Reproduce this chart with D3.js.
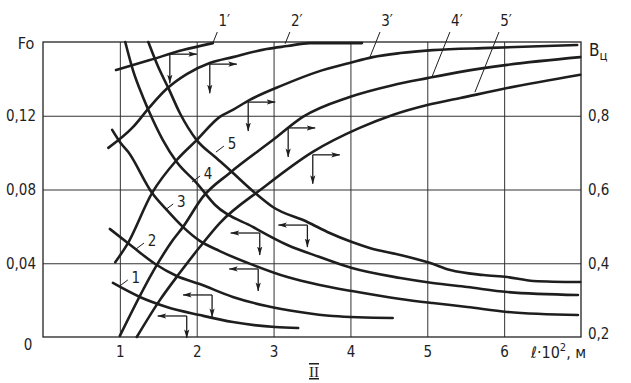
<!DOCTYPE html>
<html>
<head>
<meta charset="utf-8">
<script src="https://cdn.jsdelivr.net/npm/d3@7"></script>
<style>
html, body { margin: 0; padding: 0; background: #fff; }
svg text { font-family: "Liberation Sans Narrow", "DejaVu Sans Condensed", "Liberation Sans", sans-serif; fill: #1e1e1e; }
</style>
</head>
<body>
<div id="chart"></div>
<script>
"use strict"
// l*10^2 (m) along the bottom, Fo on the left, B_ц on the right
var lTicks = [1, 2, 3, 4, 5, 6],
	foTicks = [0.04, 0.08, 0.12],
	bTicks = [0.2, 0.4, 0.6, 0.8];

// Fo curves 1..5: [l, Fo]
var fo1 = [[0.91,0.0293],[1.26,0.0217],[1.61,0.0163],[2.04,0.0119],[2.47,0.0081],[3.02,0.0054],[3.32,0.0049]];
var fo2 = [[0.87,0.0586],[1.17,0.0488],[1.46,0.0396],[1.74,0.0331],[2.04,0.0287],[2.47,0.0217],[2.91,0.0168],[3.34,0.0136],[3.77,0.0114],[4.55,0.0103]];
var fo3 = [[0.90,0.1123],[1.00,0.1058],[1.11,0.1003],[1.42,0.0781],[1.61,0.0689],[1.82,0.0597],[2.04,0.0521],[2.30,0.0466],[2.73,0.0391],[3.18,0.0325],[3.60,0.0282],[4.02,0.0249],[4.65,0.0206],[5.07,0.0184],[5.52,0.0163],[6.04,0.0136],[6.96,0.0119]];
var fo4 = [[1.07,0.16],[1.17,0.1448],[1.30,0.1302],[1.43,0.1177],[1.56,0.1068],[1.74,0.0949],[2.00,0.0835],[2.24,0.0716],[2.73,0.0597],[3.18,0.0499],[3.60,0.0434],[4.02,0.0374],[4.65,0.0320],[5.07,0.0293],[5.52,0.0271],[6.04,0.0244],[6.96,0.0228]];
var fo5 = [[1.37,0.16],[1.50,0.1464],[1.63,0.1351],[1.78,0.1215],[2.00,0.1068],[2.24,0.0976],[2.43,0.0906],[2.76,0.0781],[2.99,0.0705],[3.44,0.0624],[3.73,0.0564],[4.02,0.0515],[4.25,0.0483],[4.65,0.0445],[5.04,0.0401],[5.30,0.0363],[5.73,0.0336],[6.04,0.0325],[6.38,0.0304],[6.99,0.0298]];

// B_ц curves 1'..5': [l, B]
var b1 = [[0.95,0.924],[1.39,0.951],[1.82,0.978],[2.21,0.997]];
var b2 = [[0.85,0.713],[1.17,0.769],[1.39,0.824],[1.61,0.873],[1.87,0.913],[2.17,0.943],[2.47,0.959],[2.91,0.981],[3.18,0.989],[3.47,0.997],[4.15,0.997]];
var b3 = [[0.94,0.403],[1.09,0.449],[1.42,0.591],[1.74,0.680],[2.00,0.734],[2.30,0.797],[2.47,0.816],[2.69,0.843],[3.12,0.883],[3.57,0.919],[3.99,0.943],[4.29,0.959],[4.65,0.970],[5.07,0.978],[5.82,0.984],[6.95,0.992]];
var b4 = [[1.00,0.203],[1.48,0.395],[1.69,0.463],[1.82,0.498],[2.08,0.580],[2.43,0.645],[2.99,0.734],[3.38,0.797],[3.99,0.851],[4.55,0.883],[5.00,0.902],[5.43,0.919],[6.04,0.938],[6.99,0.959]];
var b5 = [[1.22,0.2],[1.52,0.300],[1.78,0.374],[2.04,0.444],[2.30,0.509],[2.86,0.604],[3.51,0.702],[4.12,0.767],[4.55,0.802],[5.00,0.829],[5.43,0.848],[6.04,0.875],[6.99,0.911]];

// where the reading arrows start, on each curve
var foArrows = [[1.87,0.0114],[2.20,0.0228],[2.80,0.0369],[2.82,0.0564],[3.44,0.0607]];
var bArrows = [[1.65,0.967],[2.17,0.940],[2.67,0.837],[3.19,0.767],[3.51,0.694]];

// curve numbers and the point their leader touches
var foNames = ["1","2","3","4","5"],
	foLabelAt = [[1.00,0.0277],[1.21,0.0477],[1.59,0.0689],[1.94,0.0841],[2.25,0.1003]];
var bNames = ["1\u2032","2\u2032","3\u2032","4\u2032","5\u2032"],
	bLabelAt = [[2.21,0.997],[3.15,0.995],[4.25,0.957],[5.06,0.905],[5.62,0.864]];

var width = 631,
	height = 383,
	ink = "#1e1e1e";

var x = d3.scaleLinear().domain([0,7]).range([43,581]);
var yFo = d3.scaleLinear().domain([0,0.16]).range([337,42]);
var yB = d3.scaleLinear().domain([0.2,1.0]).range([337,42]);
var commaFmt = function(f) { return function(d) { return d3.format(f)(d).replace(".",","); }; };

var svg = d3.select("#chart").append("svg")
	.attr("width",width)
	.attr("height",height)
	.style("background","#fff");

svg.append("defs").append("marker")
	.attr("id","ah")
	.attr("viewBox","0 -3 9 6")
	.attr("refX",8.5)
	.attr("markerWidth",9)
	.attr("markerHeight",6)
	.attr("markerUnits","userSpaceOnUse")
	.attr("orient","auto")
	.append("path")
	.attr("d","M0,-2.6L9,0L0,2.6L2,0Z")
	.style("fill",ink);

function tidy(g) {
	g.select(".domain").remove();
	g.attr("font-family",null).attr("font-size",15);
	g.selectAll(".tick line").style("stroke","#333").style("stroke-width",1);
	g.selectAll(".tick text").style("fill",ink);
}

// grid lines come from the axes
svg.append("g")
	.attr("transform","translate(0,337)")
	.call(d3.axisBottom(x).tickValues(lTicks).tickSize(-(337-42)).tickPadding(9).tickFormat(d3.format("d")))
	.call(tidy);
svg.append("g")
	.attr("transform","translate(43,0)")
	.call(d3.axisLeft(yFo).tickValues(foTicks).tickSize(-(581-43)).tickPadding(7).tickFormat(commaFmt(".2f")))
	.call(tidy);
svg.append("g")
	.attr("transform","translate(581,0)")
	.call(d3.axisRight(yB).tickValues(bTicks).tickSize(0).tickPadding(7).tickFormat(commaFmt(".1f")))
	.call(tidy)
	.selectAll(".tick text").attr("dy",function(d) { return d === 0.2 ? "0.1em" : "0.32em"; });

// frame
svg.append("rect")
	.attr("x",x(0))
	.attr("y",yFo(0.16))
	.attr("width",x(7)-x(0))
	.attr("height",yFo(0)-yFo(0.16))
	.style("fill","none")
	.style("stroke","#222")
	.style("stroke-width",1.3);

// curves
var foLine = d3.line().x(function(d) { return x(d[0]); }).y(function(d) { return yFo(d[1]); }).curve(d3.curveMonotoneX);
var bLine = d3.line().x(function(d) { return x(d[0]); }).y(function(d) { return yB(d[1]); }).curve(d3.curveMonotoneX);

svg.selectAll("path.fo").data([fo1,fo2,fo3,fo4,fo5]).enter().append("path")
	.attr("class","fo")
	.attr("d",foLine)
	.style("fill","none").style("stroke",ink).style("stroke-width",2.6).style("stroke-linecap","round");
svg.selectAll("path.bc").data([b1,b2,b3,b4,b5]).enter().append("path")
	.attr("class","bc")
	.attr("d",bLine)
	.style("fill","none").style("stroke",ink).style("stroke-width",2.6).style("stroke-linecap","round");

// reading arrows: left + down for Fo, right + down for B
function arrow(x1,y1,x2,y2) {
	svg.append("line")
		.attr("x1",x1).attr("y1",y1).attr("x2",x2).attr("y2",y2)
		.attr("marker-end","url(#ah)")
		.style("stroke",ink).style("stroke-width",1.3);
}
foArrows.forEach(function(d) {
	var px = x(d[0]), py = yFo(d[1]);
	arrow(px,py,px-29,py);
	arrow(px,py,px,py+22);
});
bArrows.forEach(function(d) {
	var px = x(d[0]), py = yB(d[1]);
	arrow(px,py,px+27,py);
	arrow(px,py,px,py+29);
});

// curve labels with leaders
foLabelAt.forEach(function(d,i) {
	var px = x(d[0]), py = yFo(d[1]);
	svg.append("line").attr("x1",px).attr("y1",py).attr("x2",px+8).attr("y2",py-6)
		.style("stroke",ink).style("stroke-width",1);
	svg.append("text").attr("x",px+16).attr("y",py-8).attr("dy","0.35em")
		.attr("text-anchor","middle").attr("font-size",15).text(foNames[i]);
});
bLabelAt.forEach(function(d,i) {
	var px = x(d[0]), py = yB(d[1]),
		tx = px + (py-32)*0.4;
	svg.append("line").attr("x1",px).attr("y1",py).attr("x2",tx).attr("y2",32)
		.style("stroke",ink).style("stroke-width",1);
	svg.append("text").attr("x",tx+7).attr("y",21).attr("dy","0.35em")
		.attr("text-anchor","middle").attr("font-size",15).text(bNames[i]);
});

// axis names
svg.append("text").attr("x",26).attr("y",43).attr("dy","0.35em").attr("text-anchor","middle")
	.attr("font-size",16).text("Fo");
svg.append("text").attr("x",28).attr("y",345).attr("dy","0.35em").attr("text-anchor","middle")
	.attr("font-size",15).text("0");
var bt = svg.append("text").attr("x",589).attr("y",56).attr("font-size",17);
bt.append("tspan").text("B");
bt.append("tspan").attr("font-size",13).attr("dy",4).text("ц");
var lt = svg.append("text").attr("x",531).attr("y",358).attr("font-size",16);
lt.append("tspan").text("ℓ·10");
lt.append("tspan").attr("font-size",11).attr("dy",-7).text("2");
lt.append("tspan").attr("dy",7).text(", м");
svg.append("text").attr("x",314).attr("y",377).attr("text-anchor","middle")
	.attr("font-size",15)
	.style("font-family","'Liberation Serif', serif")
	.style("text-decoration","overline underline")
	.text("II");
</script>
</body>
</html>
